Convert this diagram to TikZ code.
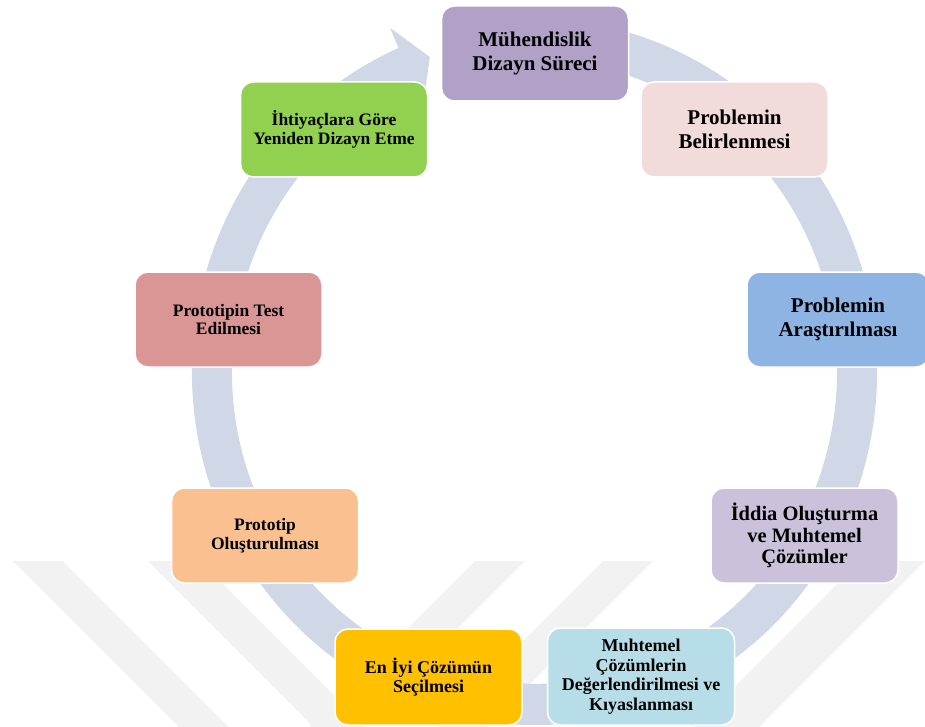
\documentclass[tikz,border=0pt]{standalone}
\usepackage{fontspec}
\setmainfont{Liberation Serif}
\definecolor{cTop}{RGB}{178,161,199}
\definecolor{cGreen}{RGB}{146,208,80}
\definecolor{cPink}{RGB}{242,220,219}
\definecolor{cBlue}{RGB}{141,180,226}
\definecolor{cLav}{RGB}{204,193,218}
\definecolor{cLBlue}{RGB}{183,222,232}
\definecolor{cYel}{RGB}{255,192,0}
\definecolor{cPeach}{RGB}{250,192,144}
\definecolor{cRed}{RGB}{217,150,148}
\definecolor{cRing}{RGB}{208,216,232}
\definecolor{cWm}{RGB}{242,242,242}
\tikzset{
  box/.style={draw=white, line width=1.5pt, rounded corners=13pt, align=center,
    inner sep=0pt, minimum width=187pt, minimum height=95pt, text=black},
  big/.style={font=\bfseries\fontsize{21}{24}\selectfont},
  mid/.style={font=\bfseries\fontsize{20.5}{21.5}\selectfont},
  small/.style={font=\bfseries\fontsize{17.5}{18.5}\selectfont},
  smallb/.style={font=\bfseries\fontsize{18}{19.5}\selectfont},
  wm/.style={fill=cWm},
  ring/.style={fill=cRing}
}
\begin{document}
\begin{tikzpicture}[x=1pt,y=-1pt]
\useasboundingbox (0,0) rectangle (925,727);
\clip (0,0) rectangle (925,727);
% watermark stripes
\fill[wm] (13,561) -- (63,561) -- (229,727) -- (179,727) -- cycle;
\fill[wm] (148,561) -- (200,561) -- (366,727) -- (314,727) -- cycle;
\fill[wm] (475,561) -- (525,561) -- (359,727) -- (309,727) -- cycle;
\fill[wm] (603,561) -- (653,561) -- (487,727) -- (437,727) -- cycle;
\fill[wm] (860,561) -- (925,561) -- (759,727) -- (694,727) -- cycle;
% circular arrow
\begin{scope}[shift={(534.5,372)}, yscale=1.0307]
\fill[ring] (-75:342.5) arc[start angle=-75,end angle=246.6,radius=342.5]
  -- (246.6:364) -- (251.1:323) -- (246.6:281) -- (246.6:302.5)
  arc[start angle=246.6,end angle=-75,radius=302.5] -- cycle;
\end{scope}
% boxes
\node[box, big, fill=cTop] (n1) at (535,53.5) {Mühendislik\\Dizayn Süreci};
\node[box, big, fill=cPink] (n2) at (734.5,129.5) {Problemin\\Belirlenmesi};
\node[box, big, fill=cBlue, minimum width=182pt] (n3) at (838,319.5) {Problemin\\Araştırılması};
\node[box, mid, fill=cLav] (n4) at (804.5,535.5) {İddia Oluşturma\\ve Muhtemel\\Çözümler};
\node[box, smallb, fill=cLBlue, minimum height=97pt] (n5) at (641,676.5) {Muhtemel\\Çözümlerin\\Değerlendirilmesi ve\\Kıyaslanması};
\node[box, smallb, fill=cYel, minimum height=96pt] (n6) at (428.5,677) {En İyi Çözümün\\Seçilmesi};
\node[box, small, fill=cPeach] (n7) at (265,535.5) {Prototip\\Oluşturulması};
\node[box, small, fill=cRed] (n8) at (228.5,319.5) {Prototipin Test\\Edilmesi};
\node[box, small, fill=cGreen] (n9) at (334,129.5) {İhtiyaçlara Göre\\Yeniden Dizayn Etme};
\end{tikzpicture}
\end{document}
